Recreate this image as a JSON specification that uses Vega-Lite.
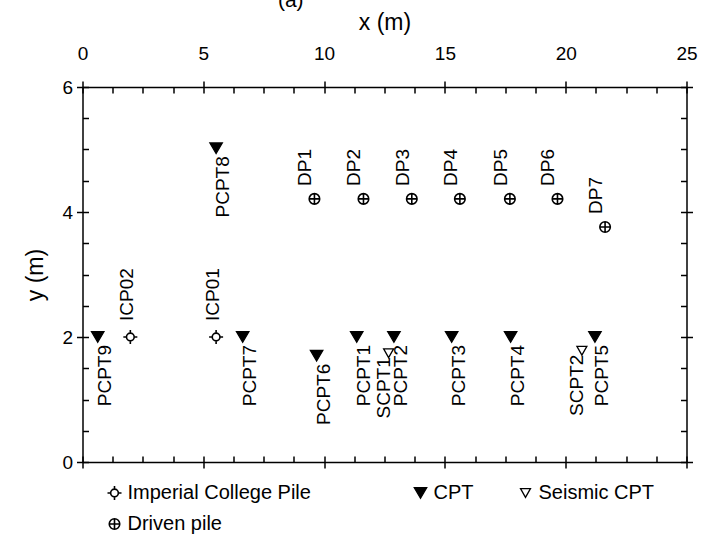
{
  "$schema": "https://vega.github.io/schema/vega-lite/v6.json",
  "width": 604,
  "height": 375,
  "autosize": "none",
  "padding": {"left": 82.5, "top": 87, "right": 14.5, "bottom": 81},
  "background": "white",
  "title": {"text": "(a)", "anchor": "start", "dx": 253, "offset": 0, "fontSize": 21, "fontWeight": "normal", "font": "Liberation Sans", "color": "black"},
  "data": {
    "values": [
      {"name": "PCPT9", "type": "CPT", "x": 0.63, "y": 2.0},
      {"name": "PCPT7", "type": "CPT", "x": 6.63, "y": 2.0},
      {"name": "PCPT8", "type": "CPT", "x": 5.53, "y": 5.02},
      {"name": "PCPT6", "type": "CPT", "x": 9.69, "y": 1.7},
      {"name": "PCPT1", "type": "CPT", "x": 11.35, "y": 2.0},
      {"name": "PCPT2", "type": "CPT", "x": 12.89, "y": 2.0},
      {"name": "PCPT3", "type": "CPT", "x": 15.28, "y": 2.0},
      {"name": "PCPT4", "type": "CPT", "x": 17.72, "y": 2.0},
      {"name": "PCPT5", "type": "CPT", "x": 21.21, "y": 2.0},
      {"name": "SCPT1", "type": "Seismic CPT", "x": 12.67, "y": 1.74},
      {"name": "SCPT2", "type": "Seismic CPT", "x": 20.67, "y": 1.78},
      {"name": "ICP02", "type": "Imperial College Pile", "x": 1.98, "y": 2.0},
      {"name": "ICP01", "type": "Imperial College Pile", "x": 5.53, "y": 2.0},
      {"name": "DP1", "type": "Driven pile", "x": 9.6, "y": 4.21},
      {"name": "DP2", "type": "Driven pile", "x": 11.63, "y": 4.21},
      {"name": "DP3", "type": "Driven pile", "x": 13.63, "y": 4.21},
      {"name": "DP4", "type": "Driven pile", "x": 15.62, "y": 4.21},
      {"name": "DP5", "type": "Driven pile", "x": 17.69, "y": 4.21},
      {"name": "DP6", "type": "Driven pile", "x": 19.66, "y": 4.21},
      {"name": "DP7", "type": "Driven pile", "x": 21.63, "y": 3.76}
    ]
  },
  "layer": [
    {
      "transform": [{"filter": "datum.type === 'Imperial College Pile' || datum.type === 'Driven pile'"}],
      "mark": {"type": "point", "filled": false, "color": "black", "strokeWidth": 1.6, "size": 196, "opacity": 1},
      "encoding": {
        "x": {"field": "x", "type": "quantitative", "scale": {"domain": [0, 25], "nice": false},
              "axis": {"orient": "top", "values": [0, 5, 10, 15, 20, 25], "tickSize": 6, "labelPadding": 18, "labelFlush": false, "title": "x (m)", "titlePadding": 10, "domain": true}},
        "y": {"field": "y", "type": "quantitative", "scale": {"domain": [0, 6], "nice": false},
              "axis": {"orient": "left", "values": [0, 2, 4, 6], "tickSize": 6, "labelPadding": 4, "labelFlush": false, "title": "y (m)", "titlePadding": 14, "domain": true}},
        "shape": {"field": "type", "type": "nominal",
                  "scale": {"domain": ["Imperial College Pile", "Driven pile"],
                            "range": ["M-0.55,0 A0.55,0.55 0 1,0 0.55,0 A0.55,0.55 0 1,0 -0.55,0 M-1,0 L-0.55,0 M0.55,0 L1,0 M0,-1 L0,-0.55 M0,0.55 L0,1",
                                      "M-0.75,0 A0.75,0.75 0 1,0 0.75,0 A0.75,0.75 0 1,0 -0.75,0 M-0.75,0 L0.75,0 M0,-0.75 L0,0.75"]},
                  "legend": {"orient": "none", "legendX": 22, "legendY": 396, "direction": "vertical", "title": null, "symbolSize": 196, "rowPadding": 10, "symbolStrokeWidth": 1.6, "symbolStrokeColor": "black", "labelLimit": 400}}
      }
    },
    {
      "transform": [{"filter": "datum.type === 'CPT' || datum.type === 'Seismic CPT'"}],
      "mark": {"type": "point", "filled": true, "stroke": "black", "strokeWidth": 1.3, "size": 154, "opacity": 1},
      "encoding": {
        "x": {"field": "x", "type": "quantitative", "scale": {"domain": [0, 25], "nice": false},
              "axis": {"orient": "top", "values": [0, 1.25, 2.5, 3.75, 5, 6.25, 7.5, 8.75, 10, 11.25, 12.5, 13.75, 15, 16.25, 17.5, 18.75, 20, 21.25, 22.5, 23.75, 25], "tickSize": -6, "labels": false, "title": null, "domain": false}},
        "y": {"field": "y", "type": "quantitative", "scale": {"domain": [0, 6], "nice": false},
              "axis": {"orient": "left", "values": [0, 0.5, 1, 1.5, 2, 2.5, 3, 3.5, 4, 4.5, 5, 5.5, 6], "tickSize": -6, "labels": false, "title": null, "domain": false}},
        "shape": {"field": "type", "type": "nominal",
                  "scale": {"domain": ["CPT", "Seismic CPT"],
                            "range": ["M-1,-0.85 L1,-0.85 L0,0.85 Z", "M-0.8,-0.7 L0.8,-0.7 L0,0.7 Z"]},
                  "legend": {"orient": "none", "legendX": 328, "legendY": 396, "direction": "horizontal", "title": null, "symbolSize": 154, "columnPadding": 42, "symbolStrokeWidth": 1.3, "symbolStrokeColor": "black", "labelLimit": 400}},
        "color": {"field": "type", "type": "nominal",
                  "scale": {"domain": ["CPT", "Seismic CPT"], "range": ["black", "white"]},
                  "legend": {"orient": "none", "legendX": 328, "legendY": 396, "direction": "horizontal", "title": null, "symbolSize": 154, "columnPadding": 42, "symbolStrokeWidth": 1.3, "symbolStrokeColor": "black", "labelLimit": 400}}
      }
    },
    {
      "transform": [{"filter": "datum.type === 'CPT'"}],
      "mark": {"type": "text", "angle": 270, "align": "right", "baseline": "middle", "dx": -8, "dy": 7},
      "encoding": {
        "x": {"field": "x", "type": "quantitative", "scale": {"domain": [0, 25], "nice": false},
              "axis": {"orient": "bottom", "values": [0, 5, 10, 15, 20, 25], "tickSize": 6, "labels": false, "title": null, "domain": true}},
        "y": {"field": "y", "type": "quantitative", "scale": {"domain": [0, 6], "nice": false},
              "axis": {"orient": "right", "values": [0, 2, 4, 6], "tickSize": 6, "labels": false, "title": null, "domain": true}},
        "text": {"field": "name"}
      }
    },
    {
      "transform": [{"filter": "datum.type === 'Seismic CPT'"}],
      "mark": {"type": "text", "angle": 270, "align": "right", "baseline": "middle", "dx": -4, "dy": -5},
      "encoding": {
        "x": {"field": "x", "type": "quantitative", "scale": {"domain": [0, 25], "nice": false},
              "axis": {"orient": "bottom", "values": [0, 1.25, 2.5, 3.75, 5, 6.25, 7.5, 8.75, 10, 11.25, 12.5, 13.75, 15, 16.25, 17.5, 18.75, 20, 21.25, 22.5, 23.75, 25], "tickSize": -6, "labels": false, "title": null, "domain": false}},
        "y": {"field": "y", "type": "quantitative", "scale": {"domain": [0, 6], "nice": false},
              "axis": {"orient": "right", "values": [0, 0.5, 1, 1.5, 2, 2.5, 3, 3.5, 4, 4.5, 5, 5.5, 6], "tickSize": -6, "labels": false, "title": null, "domain": false}},
        "text": {"field": "name"}
      }
    },
    {
      "transform": [{"filter": "datum.type === 'Imperial College Pile'"}],
      "mark": {"type": "text", "angle": 270, "align": "left", "baseline": "middle", "dx": 16, "dy": -3},
      "encoding": {
        "x": {"field": "x", "type": "quantitative", "scale": {"domain": [0, 25], "nice": false}, "axis": null},
        "y": {"field": "y", "type": "quantitative", "scale": {"domain": [0, 6], "nice": false}, "axis": null},
        "text": {"field": "name"}
      }
    },
    {
      "transform": [{"filter": "datum.type === 'Driven pile'"}],
      "mark": {"type": "text", "angle": 270, "align": "left", "baseline": "middle", "dx": 13, "dy": -9},
      "encoding": {
        "x": {"field": "x", "type": "quantitative", "scale": {"domain": [0, 25], "nice": false}, "axis": null},
        "y": {"field": "y", "type": "quantitative", "scale": {"domain": [0, 6], "nice": false}, "axis": null},
        "text": {"field": "name"}
      }
    }
  ],
  "resolve": {
    "scale": {"shape": "independent", "color": "independent"},
    "legend": {"shape": "independent", "color": "independent"},
    "axis": {"x": "independent", "y": "independent"}
  },
  "config": {
    "font": "Liberation Sans",
    "view": {"stroke": null},
    "axis": {"grid": false, "domainColor": "black", "domainWidth": 1.5, "tickColor": "black", "tickWidth": 1.5,
             "labelColor": "black", "labelFont": "Liberation Sans", "labelFontSize": 19,
             "titleFont": "Liberation Sans", "titleFontSize": 23, "titleFontWeight": "normal", "titleColor": "black"},
    "legend": {"labelFont": "Liberation Sans", "labelFontSize": 20, "labelColor": "black", "padding": 0, "labelOffset": 3, "labelLimit": 400},
    "text": {"font": "Liberation Sans", "fontSize": 19, "color": "black"}
  }
}
